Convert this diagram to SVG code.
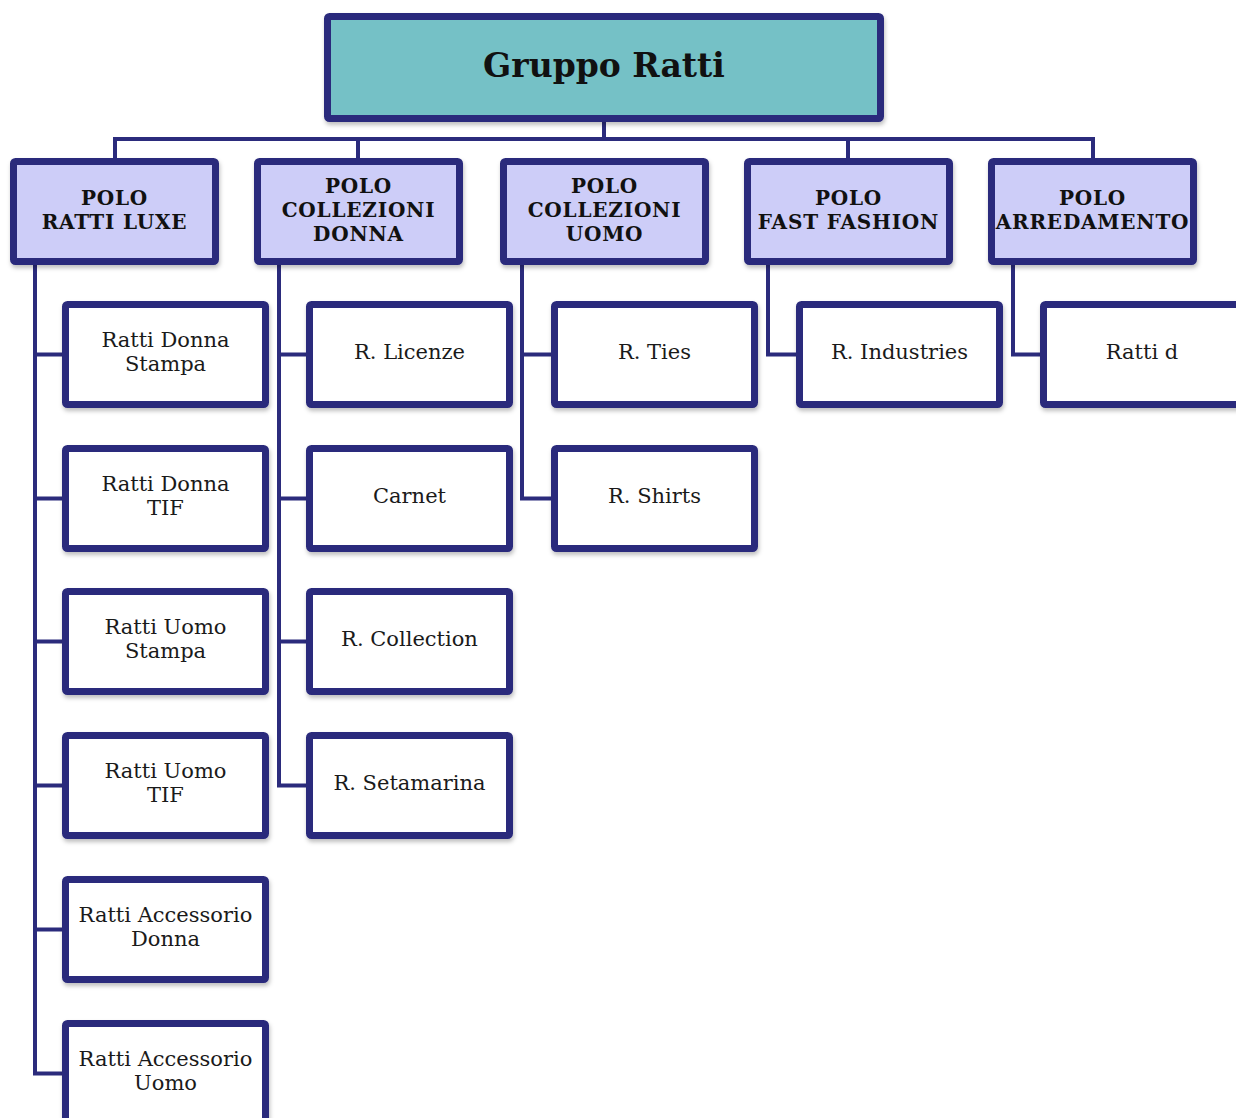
<svg xmlns="http://www.w3.org/2000/svg" width="1236" height="1118" viewBox="0 0 1236 1118">
<defs>
<filter id="sh" x="-10%" y="-10%" width="120%" height="130%">
<feDropShadow dx="1" dy="3" stdDeviation="2" flood-color="#000" flood-opacity="0.25"/>
</filter>
<style>
.top{fill:#74C1C6;stroke:#2B2B7C;stroke-width:7;filter:url(#sh)}
.l1{fill:#CDCDF8;stroke:#2B2B7C;stroke-width:7;filter:url(#sh)}
.l2{fill:#FFFFFF;stroke:#2B2B7C;stroke-width:7;filter:url(#sh)}
.c{fill:none;stroke:#2B2B7C;stroke-width:4}
.tt{font-family:"DejaVu Serif","Liberation Serif",serif;font-weight:bold;font-size:33px;fill:#111;text-anchor:middle}
.t1{font-family:"DejaVu Serif","Liberation Serif",serif;font-weight:bold;font-size:20px;letter-spacing:0.8px;fill:#111;text-anchor:middle}
.t2{font-family:"DejaVu Serif","Liberation Serif",serif;font-size:21px;fill:#1a1a1a;text-anchor:middle}
</style>
</defs>
<rect width="1236" height="1118" fill="#fff"/>
<g id="connectors" class="c">
<path d="M604 120V139M115 160V139H1093V160M358 139V160M848 139V160"/>
<path d="M35 265V1073.5H62M35 354.5H62M35 498.5H62M35 641.5H62M35 785.5H62M35 929.5H62"/>
<path d="M279 265V785.5H306M279 354.5H306M279 498.5H306M279 641.5H306"/>
<path d="M522 265V498.5H551M522 354.5H551"/>
<path d="M768 265V354.5H796"/>
<path d="M1013 265V354.5H1040"/>
</g>
<g id="gruppo"><rect class="top" x="327.5" y="16.5" width="553" height="102" rx="2"/><text class="tt" x="604" y="77">Gruppo Ratti</text></g>
<g id="polo-luxe"><rect class="l1" x="13.5" y="161.5" width="202" height="100" rx="2"/><text class="t1" x="114.5" y="205">POLO</text><text class="t1" x="114.5" y="229">RATTI LUXE</text></g>
<g id="polo-donna"><rect class="l1" x="257.5" y="161.5" width="202" height="100" rx="2"/><text class="t1" x="358.5" y="193">POLO</text><text class="t1" x="358.5" y="217">COLLEZIONI</text><text class="t1" x="358.5" y="241">DONNA</text></g>
<g id="polo-uomo"><rect class="l1" x="503.5" y="161.5" width="202" height="100" rx="2"/><text class="t1" x="604.5" y="193">POLO</text><text class="t1" x="604.5" y="217">COLLEZIONI</text><text class="t1" x="604.5" y="241">UOMO</text></g>
<g id="polo-fast"><rect class="l1" x="747.5" y="161.5" width="202" height="100" rx="2"/><text class="t1" x="848.5" y="205">POLO</text><text class="t1" x="848.5" y="229">FAST FASHION</text></g>
<g id="polo-arred"><rect class="l1" x="991.5" y="161.5" width="202" height="100" rx="2"/><text class="t1" x="1092.5" y="205">POLO</text><text class="t1" x="1092.5" y="229">ARREDAMENTO</text></g>
<g id="donna-stampa"><rect class="l2" x="65.5" y="304.5" width="200" height="100" rx="2"/><text class="t2" x="165.5" y="347">Ratti Donna</text><text class="t2" x="165.5" y="371">Stampa</text></g>
<g id="donna-tif"><rect class="l2" x="65.5" y="448.5" width="200" height="100" rx="2"/><text class="t2" x="165.5" y="491">Ratti Donna</text><text class="t2" x="165.5" y="515">TIF</text></g>
<g id="uomo-stampa"><rect class="l2" x="65.5" y="591.5" width="200" height="100" rx="2"/><text class="t2" x="165.5" y="634">Ratti Uomo</text><text class="t2" x="165.5" y="658">Stampa</text></g>
<g id="uomo-tif"><rect class="l2" x="65.5" y="735.5" width="200" height="100" rx="2"/><text class="t2" x="165.5" y="778">Ratti Uomo</text><text class="t2" x="165.5" y="802">TIF</text></g>
<g id="acc-donna"><rect class="l2" x="65.5" y="879.5" width="200" height="100" rx="2"/><text class="t2" x="165.5" y="922">Ratti Accessorio</text><text class="t2" x="165.5" y="946">Donna</text></g>
<g id="acc-uomo"><rect class="l2" x="65.5" y="1023.5" width="200" height="100" rx="2"/><text class="t2" x="165.5" y="1066">Ratti Accessorio</text><text class="t2" x="165.5" y="1090">Uomo</text></g>
<g id="licenze"><rect class="l2" x="309.5" y="304.5" width="200" height="100" rx="2"/><text class="t2" x="409.5" y="359">R. Licenze</text></g>
<g id="carnet"><rect class="l2" x="309.5" y="448.5" width="200" height="100" rx="2"/><text class="t2" x="409.5" y="503">Carnet</text></g>
<g id="collection"><rect class="l2" x="309.5" y="591.5" width="200" height="100" rx="2"/><text class="t2" x="409.5" y="646">R. Collection</text></g>
<g id="setamarina"><rect class="l2" x="309.5" y="735.5" width="200" height="100" rx="2"/><text class="t2" x="409.5" y="790">R. Setamarina</text></g>
<g id="ties"><rect class="l2" x="554.5" y="304.5" width="200" height="100" rx="2"/><text class="t2" x="654.5" y="359">R. Ties</text></g>
<g id="shirts"><rect class="l2" x="554.5" y="448.5" width="200" height="100" rx="2"/><text class="t2" x="654.5" y="503">R. Shirts</text></g>
<g id="industries"><rect class="l2" x="799.5" y="304.5" width="200" height="100" rx="2"/><text class="t2" x="899.5" y="359">R. Industries</text></g>
<g id="ratti-d"><rect class="l2" x="1043.5" y="304.5" width="200" height="100" rx="2"/><text class="t2" x="1142" y="359">Ratti d</text></g>
</svg>
